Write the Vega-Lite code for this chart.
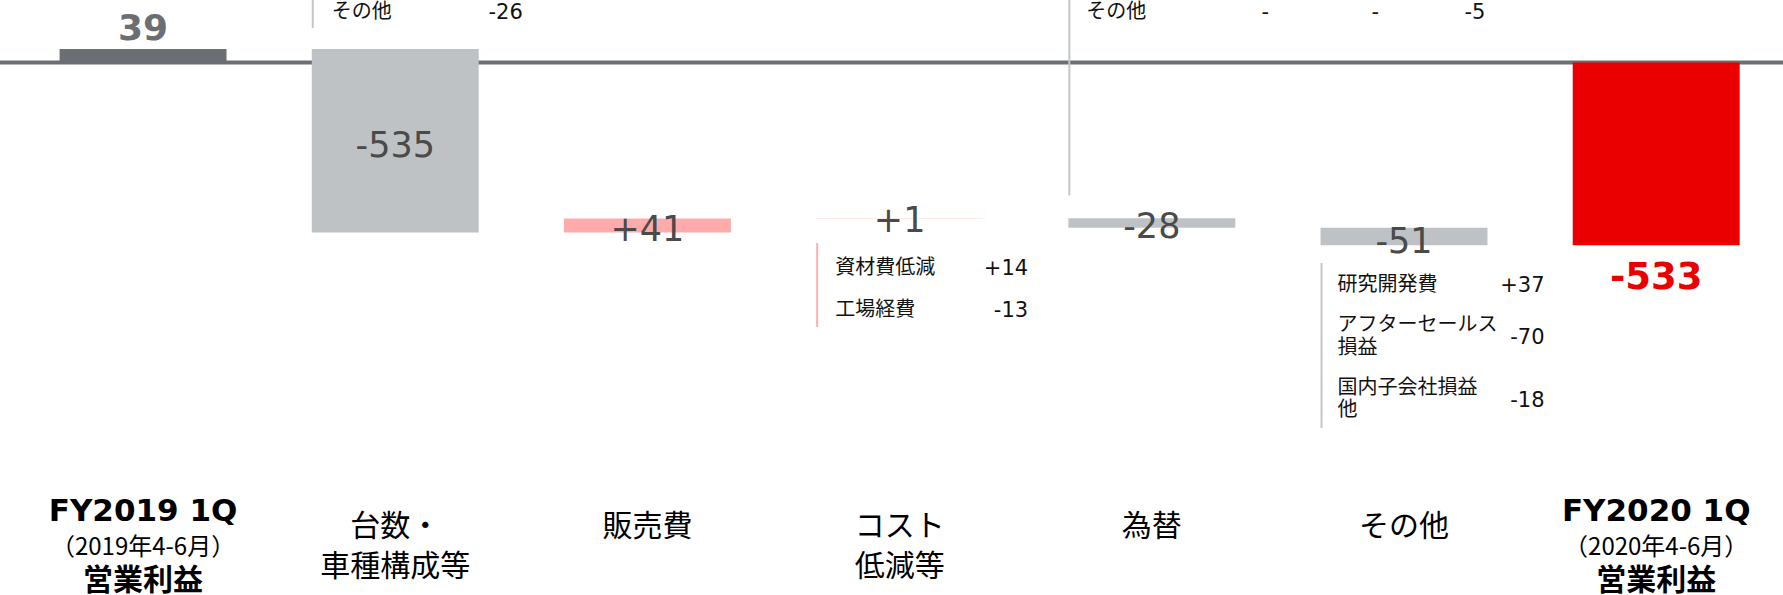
{
  "$schema": "https://vega.github.io/schema/vega-lite/v6.json",
  "width": 1783,
  "height": 595,
  "padding": 0,
  "autosize": {"type": "none"},
  "background": "#ffffff",
  "config": {"view": {"stroke": null}},
  "datasets": {
    "bars": [
      {"cat": "FY2019 1Q", "name": "FY2019 1Q", "period": "（2019年4-6月）", "sub": "営業利益", "kind": "total19", "start": 0, "end": 39, "label": "39"},
      {"cat": "台数・車種構成等", "name": "台数・\n車種構成等", "kind": "decrease", "start": 39, "end": -496, "label": "-535"},
      {"cat": "販売費", "name": "販売費", "kind": "increase", "start": -496, "end": -455, "label": "+41"},
      {"cat": "コスト低減等", "name": "コスト\n低減等", "kind": "increase", "start": -455, "end": -454, "label": "+1"},
      {"cat": "為替", "name": "為替", "kind": "decrease", "start": -454, "end": -482, "label": "-28"},
      {"cat": "その他", "name": "その他", "kind": "decrease", "start": -482, "end": -533, "label": "-51"},
      {"cat": "FY2020 1Q", "name": "FY2020 1Q", "period": "（2020年4-6月）", "sub": "営業利益", "kind": "total20", "start": 0, "end": -533, "label": "-533"}
    ],
    "details": [
      {"cat": "台数・車種構成等", "item": "その他", "amount": "-26"},
      {"cat": "コスト低減等", "item": "資材費低減", "amount": "+14"},
      {"cat": "コスト低減等", "item": "工場経費", "amount": "-13"},
      {"cat": "為替", "item": "その他", "fy19": "-", "fy20": "-", "amount": "-5"},
      {"cat": "その他", "item": "研究開発費", "amount": "+37"},
      {"cat": "その他", "item": "アフターセールス\n損益", "amount": "-70"},
      {"cat": "その他", "item": "国内子会社損益\n他", "amount": "-18"}
    ]
  },
  "layer": [
    {
      "data": {"name": "bars"},
      "transform": [{"filter": "datum.kind == 'total19'"}],
      "mark": {"type": "rule", "color": "#6b6e72", "strokeWidth": 4, "xOffset": 11},
      "encoding": {"y": {"datum": 0, "type": "quantitative", "axis": null, "scale": {"domain": [-1552.5, 182.2], "nice": false, "zero": false}}}
    },
    {
      "data": {"name": "bars"},
      "mark": {"type": "bar"},
      "encoding": {
        "x": {"field": "cat", "type": "nominal", "axis": null, "scale": {"type": "band", "domain": ["FY2019 1Q", "台数・車種構成等", "販売費", "コスト低減等", "為替", "その他", "FY2020 1Q"], "paddingInner": 0.338, "paddingOuter": 0.204, "align": 0.579}},
        "y": {"field": "start", "type": "quantitative", "axis": null, "scale": {"domain": [-1552.5, 182.2], "nice": false, "zero": false}},
        "y2": {"field": "end"},
        "color": {"field": "kind", "type": "nominal", "legend": null, "scale": {"domain": ["total19", "decrease", "increase", "total20"], "range": ["#6b6e72", "#bfc2c5", "#ffabab", "#eb0000"]}}
      }
    },
    {
      "data": {"name": "bars"},
      "transform": [{"filter": "datum.cat == 'FY2019 1Q'"}],
      "mark": {"type": "text", "font": "DejaVu Sans", "fontWeight": "bold", "fontSize": 36, "color": "#6b6e72", "align": "center", "baseline": "middle", "dy": -20},
      "encoding": {
        "x": {"field": "cat", "type": "nominal", "axis": null, "scale": {"type": "band", "domain": ["FY2019 1Q", "台数・車種構成等", "販売費", "コスト低減等", "為替", "その他", "FY2020 1Q"], "paddingInner": 0.338, "paddingOuter": 0.204, "align": 0.579}},
        "y": {"field": "end", "type": "quantitative", "axis": null, "scale": {"domain": [-1552.5, 182.2], "nice": false, "zero": false}},
        "text": {"field": "label"}
      }
    },
    {
      "data": {"name": "bars"},
      "transform": [{"filter": "datum.cat == '台数・車種構成等'"}],
      "mark": {"type": "text", "font": "DejaVu Sans", "fontSize": 35, "color": "#4a4a4a", "align": "center", "baseline": "middle", "dy": 97},
      "encoding": {
        "x": {"field": "cat", "type": "nominal", "axis": null, "scale": {"type": "band", "domain": ["FY2019 1Q", "台数・車種構成等", "販売費", "コスト低減等", "為替", "その他", "FY2020 1Q"], "paddingInner": 0.338, "paddingOuter": 0.204, "align": 0.579}},
        "y": {"field": "start", "type": "quantitative", "axis": null, "scale": {"domain": [-1552.5, 182.2], "nice": false, "zero": false}},
        "text": {"field": "label"}
      }
    },
    {
      "data": {"name": "bars"},
      "transform": [{"filter": "datum.cat == '販売費'"}],
      "mark": {"type": "text", "font": "DejaVu Sans", "fontSize": 35, "color": "#4a4a4a", "align": "center", "baseline": "middle", "dy": -3},
      "encoding": {
        "x": {"field": "cat", "type": "nominal", "axis": null, "scale": {"type": "band", "domain": ["FY2019 1Q", "台数・車種構成等", "販売費", "コスト低減等", "為替", "その他", "FY2020 1Q"], "paddingInner": 0.338, "paddingOuter": 0.204, "align": 0.579}},
        "y": {"field": "start", "type": "quantitative", "axis": null, "scale": {"domain": [-1552.5, 182.2], "nice": false, "zero": false}},
        "text": {"field": "label"}
      }
    },
    {
      "data": {"name": "bars"},
      "transform": [{"filter": "datum.cat == 'コスト低減等'"}],
      "mark": {"type": "text", "font": "DejaVu Sans", "fontSize": 35, "color": "#4a4a4a", "align": "center", "baseline": "middle", "dy": 3},
      "encoding": {
        "x": {"field": "cat", "type": "nominal", "axis": null, "scale": {"type": "band", "domain": ["FY2019 1Q", "台数・車種構成等", "販売費", "コスト低減等", "為替", "その他", "FY2020 1Q"], "paddingInner": 0.338, "paddingOuter": 0.204, "align": 0.579}},
        "y": {"field": "end", "type": "quantitative", "axis": null, "scale": {"domain": [-1552.5, 182.2], "nice": false, "zero": false}},
        "text": {"field": "label"}
      }
    },
    {
      "data": {"name": "bars"},
      "transform": [{"filter": "datum.cat == '為替'"}],
      "mark": {"type": "text", "font": "DejaVu Sans", "fontSize": 35, "color": "#4a4a4a", "align": "center", "baseline": "middle", "dy": -1},
      "encoding": {
        "x": {"field": "cat", "type": "nominal", "axis": null, "scale": {"type": "band", "domain": ["FY2019 1Q", "台数・車種構成等", "販売費", "コスト低減等", "為替", "その他", "FY2020 1Q"], "paddingInner": 0.338, "paddingOuter": 0.204, "align": 0.579}},
        "y": {"field": "end", "type": "quantitative", "axis": null, "scale": {"domain": [-1552.5, 182.2], "nice": false, "zero": false}},
        "text": {"field": "label"}
      }
    },
    {
      "data": {"name": "bars"},
      "transform": [{"filter": "datum.cat == 'その他'"}],
      "mark": {"type": "text", "font": "DejaVu Sans", "fontSize": 35, "color": "#4a4a4a", "align": "center", "baseline": "middle", "dy": -3},
      "encoding": {
        "x": {"field": "cat", "type": "nominal", "axis": null, "scale": {"type": "band", "domain": ["FY2019 1Q", "台数・車種構成等", "販売費", "コスト低減等", "為替", "その他", "FY2020 1Q"], "paddingInner": 0.338, "paddingOuter": 0.204, "align": 0.579}},
        "y": {"field": "end", "type": "quantitative", "axis": null, "scale": {"domain": [-1552.5, 182.2], "nice": false, "zero": false}},
        "text": {"field": "label"}
      }
    },
    {
      "data": {"name": "bars"},
      "transform": [{"filter": "datum.cat == 'FY2020 1Q'"}],
      "mark": {"type": "text", "font": "DejaVu Sans", "fontWeight": "bold", "fontSize": 37, "color": "#eb0000", "align": "center", "baseline": "middle", "dy": 33},
      "encoding": {
        "x": {"field": "cat", "type": "nominal", "axis": null, "scale": {"type": "band", "domain": ["FY2019 1Q", "台数・車種構成等", "販売費", "コスト低減等", "為替", "その他", "FY2020 1Q"], "paddingInner": 0.338, "paddingOuter": 0.204, "align": 0.579}},
        "y": {"field": "end", "type": "quantitative", "axis": null, "scale": {"domain": [-1552.5, 182.2], "nice": false, "zero": false}},
        "text": {"field": "label"}
      }
    },
    {
      "data": {"name": "bars"},
      "transform": [{"filter": "datum.cat == '台数・車種構成等'"}],
      "mark": {"type": "rule", "color": "#c3c6c9", "strokeWidth": 2, "xOffset": 1, "yOffset": -60, "y2Offset": -21},
      "encoding": {
        "x": {"field": "cat", "type": "nominal", "axis": null, "bandPosition": 0, "scale": {"type": "band", "domain": ["FY2019 1Q", "台数・車種構成等", "販売費", "コスト低減等", "為替", "その他", "FY2020 1Q"], "paddingInner": 0.338, "paddingOuter": 0.204, "align": 0.579}},
        "y": {"field": "start", "type": "quantitative", "axis": null, "scale": {"domain": [-1552.5, 182.2], "nice": false, "zero": false}},
        "y2": {"field": "start"}
      }
    },
    {
      "data": {"name": "bars"},
      "transform": [{"filter": "datum.cat == 'コスト低減等'"}],
      "mark": {"type": "rule", "color": "#ffb0b0", "strokeWidth": 2, "xOffset": 1, "yOffset": 24.4, "y2Offset": 108.4},
      "encoding": {
        "x": {"field": "cat", "type": "nominal", "axis": null, "bandPosition": 0, "scale": {"type": "band", "domain": ["FY2019 1Q", "台数・車種構成等", "販売費", "コスト低減等", "為替", "その他", "FY2020 1Q"], "paddingInner": 0.338, "paddingOuter": 0.204, "align": 0.579}},
        "y": {"field": "start", "type": "quantitative", "axis": null, "scale": {"domain": [-1552.5, 182.2], "nice": false, "zero": false}},
        "y2": {"field": "start"}
      }
    },
    {
      "data": {"name": "bars"},
      "transform": [{"filter": "datum.cat == '為替'"}],
      "mark": {"type": "rule", "color": "#c3c6c9", "strokeWidth": 2, "xOffset": 1, "yOffset": -230, "y2Offset": -23},
      "encoding": {
        "x": {"field": "cat", "type": "nominal", "axis": null, "bandPosition": 0, "scale": {"type": "band", "domain": ["FY2019 1Q", "台数・車種構成等", "販売費", "コスト低減等", "為替", "その他", "FY2020 1Q"], "paddingInner": 0.338, "paddingOuter": 0.204, "align": 0.579}},
        "y": {"field": "start", "type": "quantitative", "axis": null, "scale": {"domain": [-1552.5, 182.2], "nice": false, "zero": false}},
        "y2": {"field": "start"}
      }
    },
    {
      "data": {"name": "bars"},
      "transform": [{"filter": "datum.cat == 'その他'"}],
      "mark": {"type": "rule", "color": "#c3c6c9", "strokeWidth": 2, "xOffset": 1, "yOffset": 17.7, "y2Offset": 182.7},
      "encoding": {
        "x": {"field": "cat", "type": "nominal", "axis": null, "bandPosition": 0, "scale": {"type": "band", "domain": ["FY2019 1Q", "台数・車種構成等", "販売費", "コスト低減等", "為替", "その他", "FY2020 1Q"], "paddingInner": 0.338, "paddingOuter": 0.204, "align": 0.579}},
        "y": {"field": "end", "type": "quantitative", "axis": null, "scale": {"domain": [-1552.5, 182.2], "nice": false, "zero": false}},
        "y2": {"field": "end"}
      }
    },
    {
      "data": {"name": "details"},
      "transform": [{"lookup": "cat", "from": {"data": {"name": "bars"}, "key": "cat", "fields": ["start", "end"]}}, {"filter": "datum.amount == '-26'"}],
      "mark": {"type": "text", "font": "Noto Sans CJK JP", "fontSize": 20, "color": "#111111", "align": "left", "baseline": "middle", "dx": 20, "dy": -37},
      "encoding": {
        "x": {"field": "cat", "type": "nominal", "axis": null, "bandPosition": 0, "scale": {"type": "band", "domain": ["FY2019 1Q", "台数・車種構成等", "販売費", "コスト低減等", "為替", "その他", "FY2020 1Q"], "paddingInner": 0.338, "paddingOuter": 0.204, "align": 0.579}},
        "y": {"field": "start", "type": "quantitative", "axis": null, "scale": {"domain": [-1552.5, 182.2], "nice": false, "zero": false}},
        "text": {"field": "item"}
      }
    },
    {
      "data": {"name": "details"},
      "transform": [{"lookup": "cat", "from": {"data": {"name": "bars"}, "key": "cat", "fields": ["start", "end"]}}, {"filter": "datum.amount == '-26'"}],
      "mark": {"type": "text", "font": "DejaVu Sans", "fontSize": 21, "color": "#111111", "align": "right", "baseline": "middle", "dx": 211, "dy": -36},
      "encoding": {
        "x": {"field": "cat", "type": "nominal", "axis": null, "bandPosition": 0, "scale": {"type": "band", "domain": ["FY2019 1Q", "台数・車種構成等", "販売費", "コスト低減等", "為替", "その他", "FY2020 1Q"], "paddingInner": 0.338, "paddingOuter": 0.204, "align": 0.579}},
        "y": {"field": "start", "type": "quantitative", "axis": null, "scale": {"domain": [-1552.5, 182.2], "nice": false, "zero": false}},
        "text": {"field": "amount"}
      }
    },
    {
      "data": {"name": "details"},
      "transform": [{"lookup": "cat", "from": {"data": {"name": "bars"}, "key": "cat", "fields": ["start", "end"]}}, {"filter": "datum.amount == '+14'"}],
      "mark": {"type": "text", "font": "Noto Sans CJK JP", "fontSize": 20, "color": "#111111", "align": "left", "baseline": "middle", "dx": 19, "dy": 49},
      "encoding": {
        "x": {"field": "cat", "type": "nominal", "axis": null, "bandPosition": 0, "scale": {"type": "band", "domain": ["FY2019 1Q", "台数・車種構成等", "販売費", "コスト低減等", "為替", "その他", "FY2020 1Q"], "paddingInner": 0.338, "paddingOuter": 0.204, "align": 0.579}},
        "y": {"field": "start", "type": "quantitative", "axis": null, "scale": {"domain": [-1552.5, 182.2], "nice": false, "zero": false}},
        "text": {"field": "item"}
      }
    },
    {
      "data": {"name": "details"},
      "transform": [{"lookup": "cat", "from": {"data": {"name": "bars"}, "key": "cat", "fields": ["start", "end"]}}, {"filter": "datum.amount == '+14'"}],
      "mark": {"type": "text", "font": "DejaVu Sans", "fontSize": 21, "color": "#111111", "align": "right", "baseline": "middle", "dx": 212, "dy": 50},
      "encoding": {
        "x": {"field": "cat", "type": "nominal", "axis": null, "bandPosition": 0, "scale": {"type": "band", "domain": ["FY2019 1Q", "台数・車種構成等", "販売費", "コスト低減等", "為替", "その他", "FY2020 1Q"], "paddingInner": 0.338, "paddingOuter": 0.204, "align": 0.579}},
        "y": {"field": "start", "type": "quantitative", "axis": null, "scale": {"domain": [-1552.5, 182.2], "nice": false, "zero": false}},
        "text": {"field": "amount"}
      }
    },
    {
      "data": {"name": "details"},
      "transform": [{"lookup": "cat", "from": {"data": {"name": "bars"}, "key": "cat", "fields": ["start", "end"]}}, {"filter": "datum.amount == '-13'"}],
      "mark": {"type": "text", "font": "Noto Sans CJK JP", "fontSize": 20, "color": "#111111", "align": "left", "baseline": "middle", "dx": 19, "dy": 91},
      "encoding": {
        "x": {"field": "cat", "type": "nominal", "axis": null, "bandPosition": 0, "scale": {"type": "band", "domain": ["FY2019 1Q", "台数・車種構成等", "販売費", "コスト低減等", "為替", "その他", "FY2020 1Q"], "paddingInner": 0.338, "paddingOuter": 0.204, "align": 0.579}},
        "y": {"field": "start", "type": "quantitative", "axis": null, "scale": {"domain": [-1552.5, 182.2], "nice": false, "zero": false}},
        "text": {"field": "item"}
      }
    },
    {
      "data": {"name": "details"},
      "transform": [{"lookup": "cat", "from": {"data": {"name": "bars"}, "key": "cat", "fields": ["start", "end"]}}, {"filter": "datum.amount == '-13'"}],
      "mark": {"type": "text", "font": "DejaVu Sans", "fontSize": 21, "color": "#111111", "align": "right", "baseline": "middle", "dx": 212, "dy": 92},
      "encoding": {
        "x": {"field": "cat", "type": "nominal", "axis": null, "bandPosition": 0, "scale": {"type": "band", "domain": ["FY2019 1Q", "台数・車種構成等", "販売費", "コスト低減等", "為替", "その他", "FY2020 1Q"], "paddingInner": 0.338, "paddingOuter": 0.204, "align": 0.579}},
        "y": {"field": "start", "type": "quantitative", "axis": null, "scale": {"domain": [-1552.5, 182.2], "nice": false, "zero": false}},
        "text": {"field": "amount"}
      }
    },
    {
      "data": {"name": "details"},
      "transform": [{"lookup": "cat", "from": {"data": {"name": "bars"}, "key": "cat", "fields": ["start", "end"]}}, {"filter": "datum.amount == '-5'"}],
      "mark": {"type": "text", "font": "Noto Sans CJK JP", "fontSize": 20, "color": "#111111", "align": "left", "baseline": "middle", "dx": 18, "dy": -206},
      "encoding": {
        "x": {"field": "cat", "type": "nominal", "axis": null, "bandPosition": 0, "scale": {"type": "band", "domain": ["FY2019 1Q", "台数・車種構成等", "販売費", "コスト低減等", "為替", "その他", "FY2020 1Q"], "paddingInner": 0.338, "paddingOuter": 0.204, "align": 0.579}},
        "y": {"field": "start", "type": "quantitative", "axis": null, "scale": {"domain": [-1552.5, 182.2], "nice": false, "zero": false}},
        "text": {"field": "item"}
      }
    },
    {
      "data": {"name": "details"},
      "transform": [{"lookup": "cat", "from": {"data": {"name": "bars"}, "key": "cat", "fields": ["start", "end"]}}, {"filter": "datum.amount == '-5'"}],
      "mark": {"type": "text", "font": "DejaVu Sans", "fontSize": 21, "color": "#111111", "align": "center", "baseline": "middle", "dx": 197, "dy": -205},
      "encoding": {
        "x": {"field": "cat", "type": "nominal", "axis": null, "bandPosition": 0, "scale": {"type": "band", "domain": ["FY2019 1Q", "台数・車種構成等", "販売費", "コスト低減等", "為替", "その他", "FY2020 1Q"], "paddingInner": 0.338, "paddingOuter": 0.204, "align": 0.579}},
        "y": {"field": "start", "type": "quantitative", "axis": null, "scale": {"domain": [-1552.5, 182.2], "nice": false, "zero": false}},
        "text": {"field": "fy19"}
      }
    },
    {
      "data": {"name": "details"},
      "transform": [{"lookup": "cat", "from": {"data": {"name": "bars"}, "key": "cat", "fields": ["start", "end"]}}, {"filter": "datum.amount == '-5'"}],
      "mark": {"type": "text", "font": "DejaVu Sans", "fontSize": 21, "color": "#111111", "align": "center", "baseline": "middle", "dx": 307, "dy": -205},
      "encoding": {
        "x": {"field": "cat", "type": "nominal", "axis": null, "bandPosition": 0, "scale": {"type": "band", "domain": ["FY2019 1Q", "台数・車種構成等", "販売費", "コスト低減等", "為替", "その他", "FY2020 1Q"], "paddingInner": 0.338, "paddingOuter": 0.204, "align": 0.579}},
        "y": {"field": "start", "type": "quantitative", "axis": null, "scale": {"domain": [-1552.5, 182.2], "nice": false, "zero": false}},
        "text": {"field": "fy20"}
      }
    },
    {
      "data": {"name": "details"},
      "transform": [{"lookup": "cat", "from": {"data": {"name": "bars"}, "key": "cat", "fields": ["start", "end"]}}, {"filter": "datum.amount == '-5'"}],
      "mark": {"type": "text", "font": "DejaVu Sans", "fontSize": 21, "color": "#111111", "align": "right", "baseline": "middle", "dx": 417, "dy": -205},
      "encoding": {
        "x": {"field": "cat", "type": "nominal", "axis": null, "bandPosition": 0, "scale": {"type": "band", "domain": ["FY2019 1Q", "台数・車種構成等", "販売費", "コスト低減等", "為替", "その他", "FY2020 1Q"], "paddingInner": 0.338, "paddingOuter": 0.204, "align": 0.579}},
        "y": {"field": "start", "type": "quantitative", "axis": null, "scale": {"domain": [-1552.5, 182.2], "nice": false, "zero": false}},
        "text": {"field": "amount"}
      }
    },
    {
      "data": {"name": "details"},
      "transform": [{"lookup": "cat", "from": {"data": {"name": "bars"}, "key": "cat", "fields": ["start", "end"]}}, {"filter": "datum.amount == '+37'"}],
      "mark": {"type": "text", "font": "Noto Sans CJK JP", "fontSize": 20, "color": "#111111", "align": "left", "baseline": "middle", "dx": 17, "dy": 40},
      "encoding": {
        "x": {"field": "cat", "type": "nominal", "axis": null, "bandPosition": 0, "scale": {"type": "band", "domain": ["FY2019 1Q", "台数・車種構成等", "販売費", "コスト低減等", "為替", "その他", "FY2020 1Q"], "paddingInner": 0.338, "paddingOuter": 0.204, "align": 0.579}},
        "y": {"field": "end", "type": "quantitative", "axis": null, "scale": {"domain": [-1552.5, 182.2], "nice": false, "zero": false}},
        "text": {"field": "item"}
      }
    },
    {
      "data": {"name": "details"},
      "transform": [{"lookup": "cat", "from": {"data": {"name": "bars"}, "key": "cat", "fields": ["start", "end"]}}, {"filter": "datum.amount == '+37'"}],
      "mark": {"type": "text", "font": "DejaVu Sans", "fontSize": 21, "color": "#111111", "align": "right", "baseline": "middle", "dx": 224, "dy": 41},
      "encoding": {
        "x": {"field": "cat", "type": "nominal", "axis": null, "bandPosition": 0, "scale": {"type": "band", "domain": ["FY2019 1Q", "台数・車種構成等", "販売費", "コスト低減等", "為替", "その他", "FY2020 1Q"], "paddingInner": 0.338, "paddingOuter": 0.204, "align": 0.579}},
        "y": {"field": "end", "type": "quantitative", "axis": null, "scale": {"domain": [-1552.5, 182.2], "nice": false, "zero": false}},
        "text": {"field": "amount"}
      }
    },
    {
      "data": {"name": "details"},
      "transform": [{"lookup": "cat", "from": {"data": {"name": "bars"}, "key": "cat", "fields": ["start", "end"]}}, {"filter": "datum.amount == '-70'"}],
      "mark": {"type": "text", "font": "Noto Sans CJK JP", "fontSize": 20, "color": "#111111", "align": "left", "baseline": "middle", "lineBreak": "\n", "lineHeight": 23, "dx": 17, "dy": 80},
      "encoding": {
        "x": {"field": "cat", "type": "nominal", "axis": null, "bandPosition": 0, "scale": {"type": "band", "domain": ["FY2019 1Q", "台数・車種構成等", "販売費", "コスト低減等", "為替", "その他", "FY2020 1Q"], "paddingInner": 0.338, "paddingOuter": 0.204, "align": 0.579}},
        "y": {"field": "end", "type": "quantitative", "axis": null, "scale": {"domain": [-1552.5, 182.2], "nice": false, "zero": false}},
        "text": {"field": "item"}
      }
    },
    {
      "data": {"name": "details"},
      "transform": [{"lookup": "cat", "from": {"data": {"name": "bars"}, "key": "cat", "fields": ["start", "end"]}}, {"filter": "datum.amount == '-70'"}],
      "mark": {"type": "text", "font": "DejaVu Sans", "fontSize": 21, "color": "#111111", "align": "right", "baseline": "middle", "dx": 224, "dy": 93},
      "encoding": {
        "x": {"field": "cat", "type": "nominal", "axis": null, "bandPosition": 0, "scale": {"type": "band", "domain": ["FY2019 1Q", "台数・車種構成等", "販売費", "コスト低減等", "為替", "その他", "FY2020 1Q"], "paddingInner": 0.338, "paddingOuter": 0.204, "align": 0.579}},
        "y": {"field": "end", "type": "quantitative", "axis": null, "scale": {"domain": [-1552.5, 182.2], "nice": false, "zero": false}},
        "text": {"field": "amount"}
      }
    },
    {
      "data": {"name": "details"},
      "transform": [{"lookup": "cat", "from": {"data": {"name": "bars"}, "key": "cat", "fields": ["start", "end"]}}, {"filter": "datum.amount == '-18'"}],
      "mark": {"type": "text", "font": "Noto Sans CJK JP", "fontSize": 20, "color": "#111111", "align": "left", "baseline": "middle", "lineBreak": "\n", "lineHeight": 22, "dx": 17, "dy": 143},
      "encoding": {
        "x": {"field": "cat", "type": "nominal", "axis": null, "bandPosition": 0, "scale": {"type": "band", "domain": ["FY2019 1Q", "台数・車種構成等", "販売費", "コスト低減等", "為替", "その他", "FY2020 1Q"], "paddingInner": 0.338, "paddingOuter": 0.204, "align": 0.579}},
        "y": {"field": "end", "type": "quantitative", "axis": null, "scale": {"domain": [-1552.5, 182.2], "nice": false, "zero": false}},
        "text": {"field": "item"}
      }
    },
    {
      "data": {"name": "details"},
      "transform": [{"lookup": "cat", "from": {"data": {"name": "bars"}, "key": "cat", "fields": ["start", "end"]}}, {"filter": "datum.amount == '-18'"}],
      "mark": {"type": "text", "font": "DejaVu Sans", "fontSize": 21, "color": "#111111", "align": "right", "baseline": "middle", "dx": 224, "dy": 156},
      "encoding": {
        "x": {"field": "cat", "type": "nominal", "axis": null, "bandPosition": 0, "scale": {"type": "band", "domain": ["FY2019 1Q", "台数・車種構成等", "販売費", "コスト低減等", "為替", "その他", "FY2020 1Q"], "paddingInner": 0.338, "paddingOuter": 0.204, "align": 0.579}},
        "y": {"field": "end", "type": "quantitative", "axis": null, "scale": {"domain": [-1552.5, 182.2], "nice": false, "zero": false}},
        "text": {"field": "amount"}
      }
    },
    {
      "data": {"name": "bars"},
      "transform": [{"filter": "datum.kind == 'decrease' || datum.kind == 'increase'"}],
      "mark": {"type": "text", "font": "Noto Sans CJK JP", "fontSize": 30, "color": "#000000", "align": "center", "baseline": "top", "lineBreak": "\n", "lineHeight": 40, "dy": 214},
      "encoding": {
        "x": {"field": "cat", "type": "nominal", "axis": null, "scale": {"type": "band", "domain": ["FY2019 1Q", "台数・車種構成等", "販売費", "コスト低減等", "為替", "その他", "FY2020 1Q"], "paddingInner": 0.338, "paddingOuter": 0.204, "align": 0.579}},
        "text": {"field": "name"}
      }
    },
    {
      "data": {"name": "bars"},
      "transform": [{"filter": "datum.kind == 'total19' || datum.kind == 'total20'"}],
      "mark": {"type": "text", "font": "DejaVu Sans", "fontWeight": "bold", "fontSize": 31, "color": "#000000", "align": "center", "baseline": "middle", "dy": 214},
      "encoding": {
        "x": {"field": "cat", "type": "nominal", "axis": null, "scale": {"type": "band", "domain": ["FY2019 1Q", "台数・車種構成等", "販売費", "コスト低減等", "為替", "その他", "FY2020 1Q"], "paddingInner": 0.338, "paddingOuter": 0.204, "align": 0.579}},
        "text": {"field": "name"}
      }
    },
    {
      "data": {"name": "bars"},
      "transform": [{"filter": "datum.kind == 'total19' || datum.kind == 'total20'"}],
      "mark": {"type": "text", "font": "Noto Sans CJK JP", "fontSize": 24, "color": "#000000", "align": "center", "baseline": "middle", "dy": 250},
      "encoding": {
        "x": {"field": "cat", "type": "nominal", "axis": null, "scale": {"type": "band", "domain": ["FY2019 1Q", "台数・車種構成等", "販売費", "コスト低減等", "為替", "その他", "FY2020 1Q"], "paddingInner": 0.338, "paddingOuter": 0.204, "align": 0.579}},
        "text": {"field": "period"}
      }
    },
    {
      "data": {"name": "bars"},
      "transform": [{"filter": "datum.kind == 'total19' || datum.kind == 'total20'"}],
      "mark": {"type": "text", "font": "Noto Sans CJK JP", "fontWeight": "bold", "fontSize": 30, "color": "#000000", "align": "center", "baseline": "middle", "dy": 283},
      "encoding": {
        "x": {"field": "cat", "type": "nominal", "axis": null, "scale": {"type": "band", "domain": ["FY2019 1Q", "台数・車種構成等", "販売費", "コスト低減等", "為替", "その他", "FY2020 1Q"], "paddingInner": 0.338, "paddingOuter": 0.204, "align": 0.579}},
        "text": {"field": "sub"}
      }
    }
  ]
}
